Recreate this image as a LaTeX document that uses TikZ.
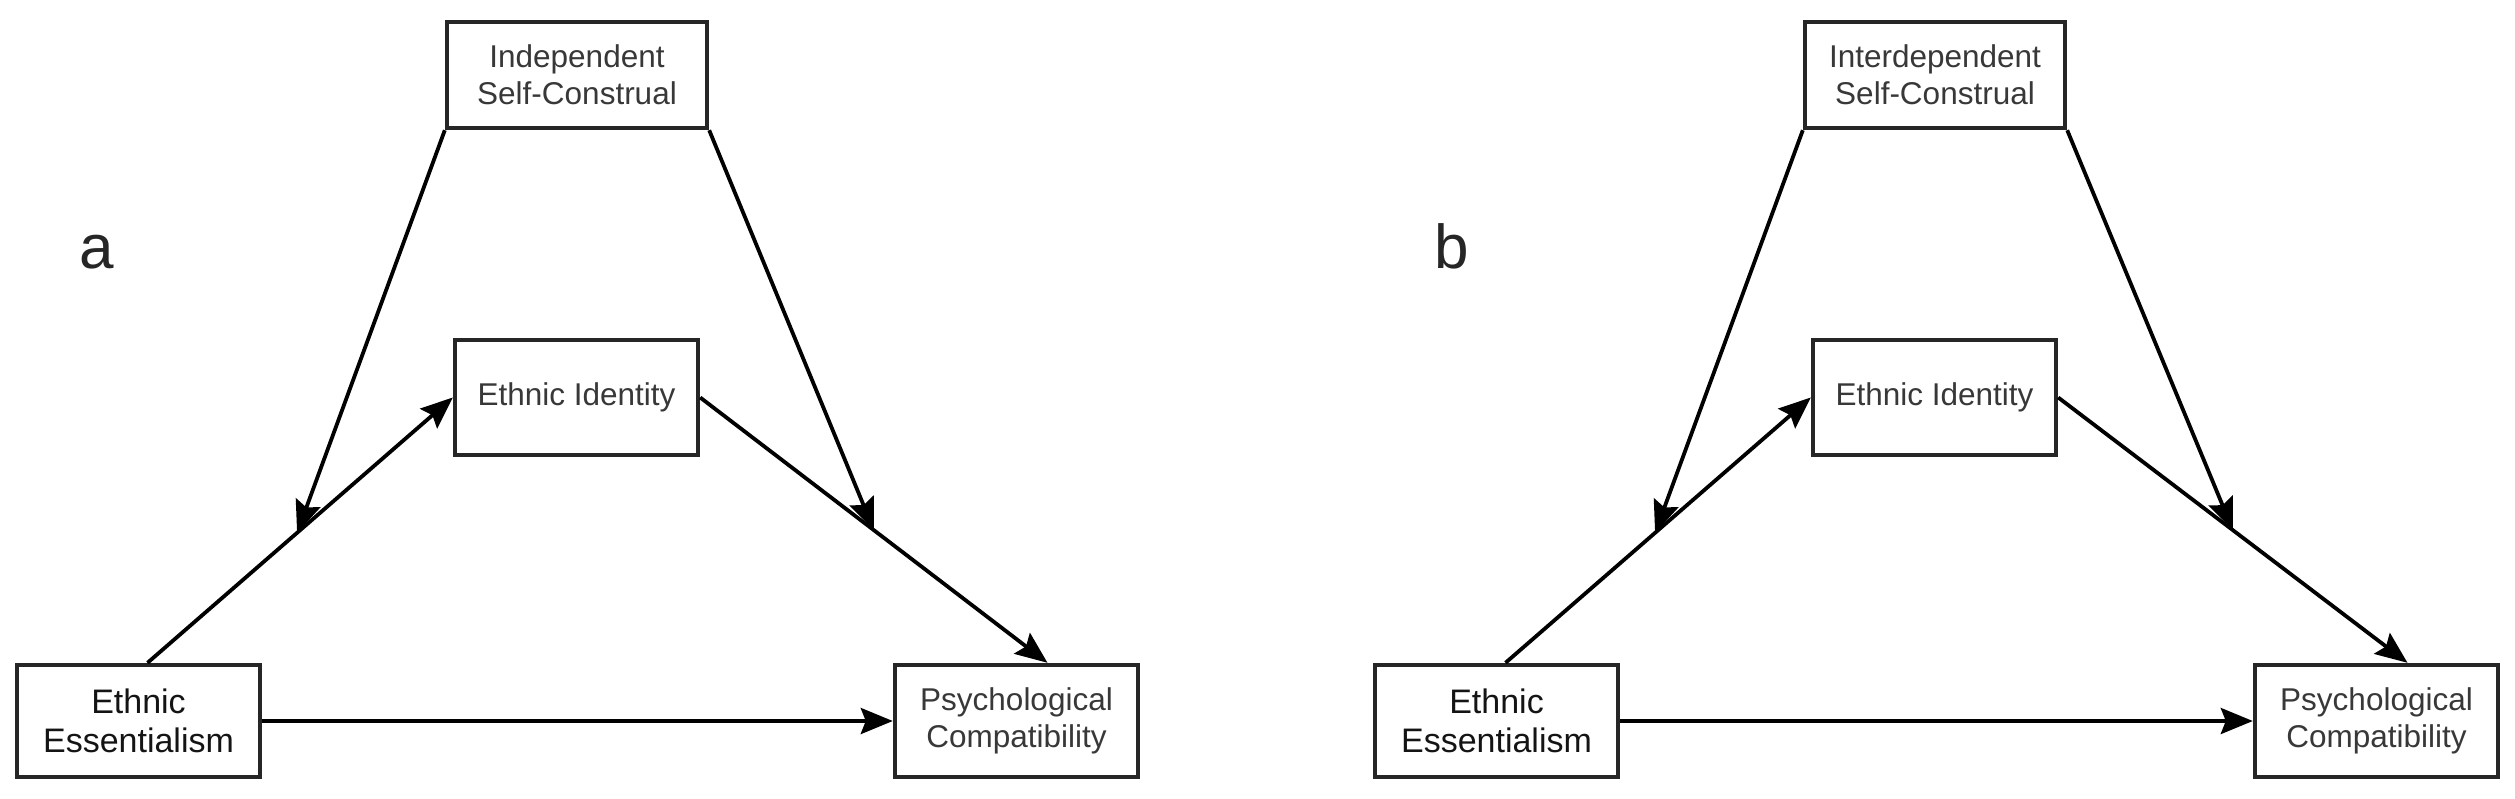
\documentclass[tikz,border=0pt]{standalone}
\usepackage{fontspec}
\setmainfont{Liberation Sans}
\usetikzlibrary{arrows.meta,calc}
\begin{document}
\begin{tikzpicture}[x=1pt,y=-1pt,
  box/.style={draw=black!85,line width=4.4pt,inner sep=0pt,align=center,
    text=black!78,font=\fontsize{31.5}{37}\selectfont},
  bigbox/.style={box,text=black!92,font=\fontsize{34}{39}\selectfont},
  arr/.style={draw=black,line width=3.8pt,-{Stealth[length=32pt,width=26pt,inset=5pt]}},
  panel/.style={font=\fontsize{62}{62}\selectfont,text=black!85,anchor=base,inner sep=0pt}]
\useasboundingbox (0,0) rectangle (2515,798);
\fill[white] (0,0) rectangle (2515,798);
% ---------- panel a ----------
\node[panel] (la) at (97,268) {a};
\node[box,minimum width=260pt,minimum height=106pt] (ISa) at (577,75) {Independent\\Self-Construal};
\node[box,minimum width=243pt,minimum height=115pt] (EIa) at (576.5,397.5) {Ethnic Identity};
\node[bigbox,minimum width=243pt,minimum height=112pt] (EEa) at (138.5,721) {Ethnic\\Essentialism};
\node[box,minimum width=243pt,minimum height=112pt] (PCa) at (1016.5,721) {Psychological\\Compatibility};
\coordinate (EEaT) at ([xshift=9pt]EEa.north);
\coordinate (PCaT) at ([xshift=31pt]PCa.north);
\path (EEaT) -- (EIa.west) coordinate[pos=0.49] (Ma1);
\path (EIa.east) -- (PCaT) coordinate[pos=0.5] (Ma2);
\draw[arr] (EEaT) -- (EIa.west);
\draw[arr] (EIa.east) -- (PCaT);
\draw[arr] (EEa.east) -- (PCa.west);
\draw[arr] (ISa.south west) -- (Ma1);
\draw[arr] (ISa.south east) -- (Ma2);
% ---------- panel b ----------
\node[panel] (lb) at (1452,268) {b};
\node[box,minimum width=260pt,minimum height=106pt] (ISb) at (1935,75) {Interdependent\\Self-Construal};
\node[box,minimum width=243pt,minimum height=115pt] (EIb) at (1934.5,397.5) {Ethnic Identity};
\node[bigbox,minimum width=243pt,minimum height=112pt] (EEb) at (1496.5,721) {Ethnic\\Essentialism};
\node[box,minimum width=243pt,minimum height=112pt] (PCb) at (2376.5,721) {Psychological\\Compatibility};
\coordinate (EEbT) at ([xshift=9pt]EEb.north);
\coordinate (PCbT) at ([xshift=31pt]PCb.north);
\path (EEbT) -- (EIb.west) coordinate[pos=0.49] (Mb1);
\path (EIb.east) -- (PCbT) coordinate[pos=0.5] (Mb2);
\draw[arr] (EEbT) -- (EIb.west);
\draw[arr] (EIb.east) -- (PCbT);
\draw[arr] (EEb.east) -- (PCb.west);
\draw[arr] (ISb.south west) -- (Mb1);
\draw[arr] (ISb.south east) -- (Mb2);
\end{tikzpicture}
\end{document}
